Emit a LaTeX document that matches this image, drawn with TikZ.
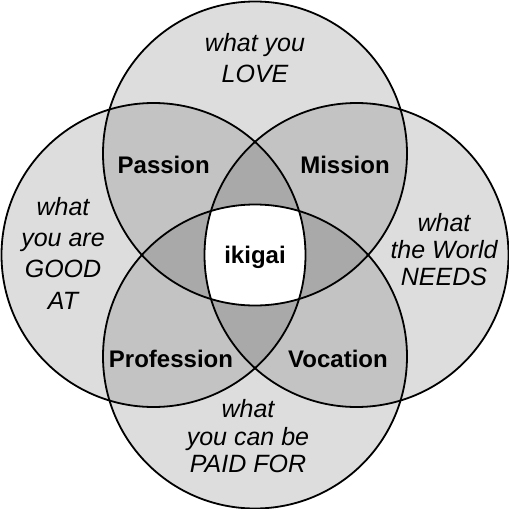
\documentclass[tikz,border=0pt]{standalone}
\usepackage{fontspec}
\setmainfont{Liberation Sans}
\usetikzlibrary{positioning}
\definecolor{oneset}{HTML}{DDDDDD}
\definecolor{twoset}{HTML}{C3C3C3}
\definecolor{threeset}{HTML}{A9A9A9}

\begin{document}
\begin{tikzpicture}[
    x=1pt, y=-1pt,
    ring/.style={
        draw,
        line width=1.8pt
    },
    wish/.style={
        align=center,
        inner sep=0pt,
        font=\fontsize{25}{#1}\selectfont\itshape
    },
    field/.style={
        anchor=base,
        inner sep=0pt,
        font=\fontsize{24}{28}\selectfont\bfseries
    }
]
\useasboundingbox (0,0) rectangle (509,509);

\def\rad{152pt}
\coordinate (love) at (255,153.5);
\coordinate (good) at (153.5,255);
\coordinate (needs) at (356.5,255);
\coordinate (paid) at (255,356.5);

% one circle
\foreach \c in {love,good,needs,paid}
    \fill[oneset] (\c) circle (\rad);

% two circles overlap
\foreach \a/\b in {love/good,love/needs,love/paid,good/needs,good/paid,needs/paid}{
    \begin{scope}
        \clip (\a) circle (\rad);
        \fill[twoset] (\b) circle (\rad);
    \end{scope}
}

% three circles overlap
\foreach \a/\b/\c in {love/good/needs,love/good/paid,love/needs/paid,good/needs/paid}{
    \begin{scope}
        \clip (\a) circle (\rad);
        \clip (\b) circle (\rad);
        \fill[threeset] (\c) circle (\rad);
    \end{scope}
}

% all four
\begin{scope}
    \clip (love) circle (\rad);
    \clip (good) circle (\rad);
    \clip (needs) circle (\rad);
    \fill[white] (paid) circle (\rad);
\end{scope}

\foreach \c in {love,good,needs,paid}
    \draw[ring] (\c) circle (\rad);

\node[wish=31] (lovetext) at (255,58.4)
{what you\\LOVE};
\node[wish=31.3] (goodtext) at (63,253)
{what\\you are\\GOOD\\AT};
\node[wish=27] (needstext) at (444,250)
{what\\the World\\NEEDS};
\node[wish=27.5] (paidtext) at (248,436.4)
{what\\you can be\\PAID FOR};

\node[field] (passion) at (163.7,173) {Passion};
\node[field] (mission) at (345,173) {Mission};
\node[field] (profession) at (171,367) {Profession};
\node[field] (vocation) at (338,367) {Vocation};
\node[field] (ikigai) at (255,263) {ikigai};

\end{tikzpicture}
\end{document}
